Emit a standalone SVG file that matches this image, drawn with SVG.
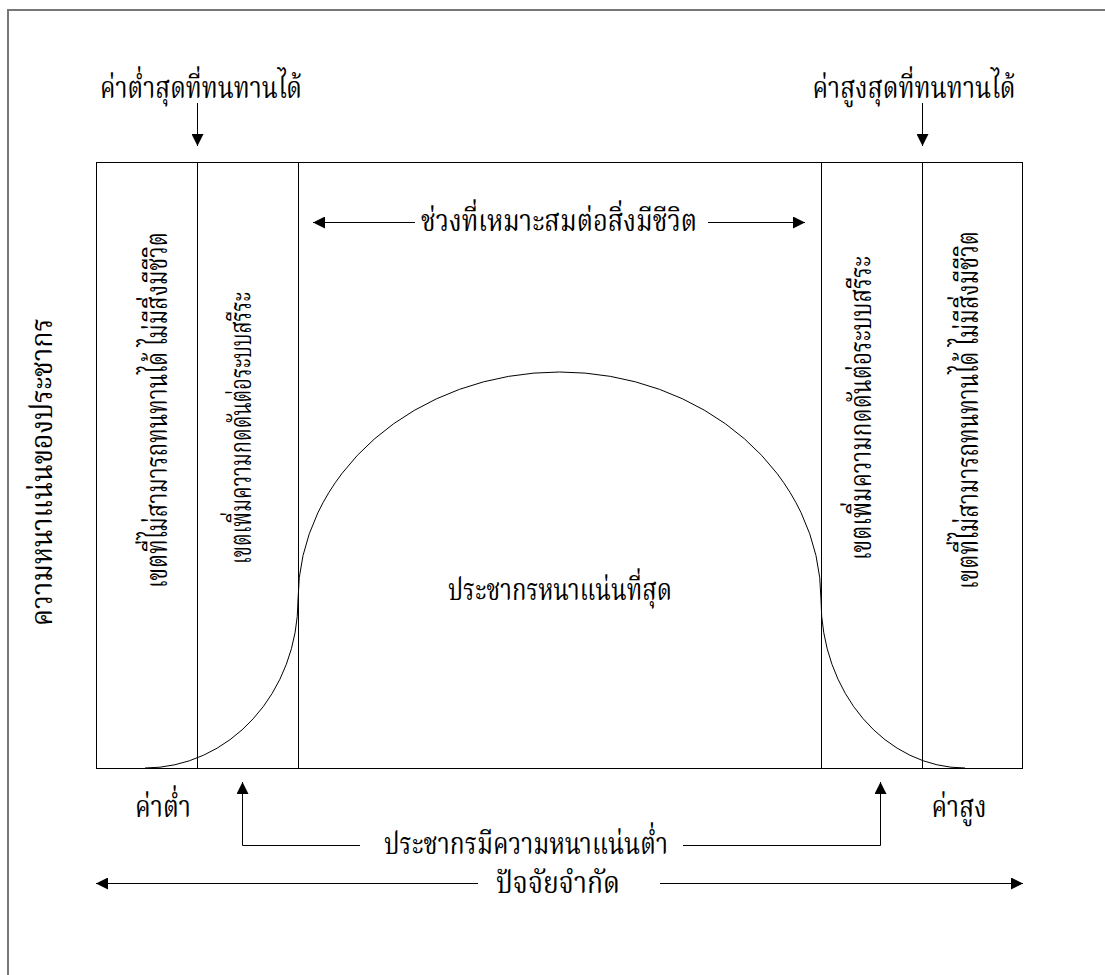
<svg xmlns="http://www.w3.org/2000/svg" width="1105" height="975" viewBox="0 0 1105 975">
<style>
text{font-family:"Liberation Serif","Noto Serif Thai","Noto Sans Thai",serif;fill:#000;font-size:30px}
.ln{stroke:#000;stroke-width:1;fill:none}
.frame{stroke:#777;stroke-width:2;fill:none}
</style>
<defs>
<marker id="ah" viewBox="0 0 10 10" refX="10" refY="5" markerWidth="16" markerHeight="12" markerUnits="userSpaceOnUse" orient="auto"><path d="M0,0 L10,5 L0,10 z" fill="#000"/></marker>
</defs>
<rect class="frame" x="8" y="10" width="1110" height="980"/>
<g id="chart">
<rect class="ln" x="96.5" y="162.5" width="926" height="606"/>
<line class="ln" x1="197.5" y1="163" x2="197.5" y2="768"/>
<line class="ln" x1="298.5" y1="163" x2="298.5" y2="768"/>
<line class="ln" x1="821.5" y1="163" x2="821.5" y2="768"/>
<line class="ln" x1="922.5" y1="163" x2="922.5" y2="768"/>
<path class="ln" d="M145,768 A153,168 0 0 0 298,600 A261.5,228 0 0 1 821,600 A144,168 0 0 0 965,768"/>
</g>
<g id="connectors">
<line class="ln" x1="197.5" y1="103" x2="197.5" y2="146" marker-end="url(#ah)"/>
<line class="ln" x1="922.5" y1="103" x2="922.5" y2="146" marker-end="url(#ah)"/>
<line class="ln" x1="415" y1="222.5" x2="313" y2="222.5" marker-end="url(#ah)"/>
<line class="ln" x1="708" y1="222.5" x2="805" y2="222.5" marker-end="url(#ah)"/>
<polyline class="ln" points="360,845.5 242.5,845.5 242.5,782" marker-end="url(#ah)"/>
<polyline class="ln" points="683,845.5 880.5,845.5 880.5,782" marker-end="url(#ah)"/>
<line class="ln" x1="478" y1="883.5" x2="96" y2="883.5" marker-end="url(#ah)"/>
<line class="ln" x1="660" y1="883.5" x2="1023" y2="883.5" marker-end="url(#ah)"/>
</g>
<g id="labels">
<text x="201" y="98" text-anchor="middle" textLength="202" lengthAdjust="spacingAndGlyphs">ค่าต่ำสุดที่ทนทานได้</text>
<text x="914" y="98" text-anchor="middle" textLength="203" lengthAdjust="spacingAndGlyphs">ค่าสูงสุดที่ทนทานได้</text>
<text x="559" y="231" text-anchor="middle" textLength="276" lengthAdjust="spacingAndGlyphs">ช่วงที่เหมาะสมต่อสิ่งมีชีวิต</text>
<text x="560" y="600" text-anchor="middle" textLength="224" lengthAdjust="spacingAndGlyphs">ประชากรหนาแน่นที่สุด</text>
<text x="163" y="817" text-anchor="middle" textLength="56" lengthAdjust="spacingAndGlyphs">ค่าต่ำ</text>
<text x="959" y="817" text-anchor="middle" textLength="55" lengthAdjust="spacingAndGlyphs">ค่าสูง</text>
<text x="526" y="854" text-anchor="middle" textLength="284" lengthAdjust="spacingAndGlyphs">ประชากรมีความหนาแน่นต่ำ</text>
<text x="558" y="893" text-anchor="middle" textLength="124" lengthAdjust="spacingAndGlyphs">ปัจจัยจำกัด</text>
<text transform="translate(52,472) rotate(-90)" text-anchor="middle" textLength="308" lengthAdjust="spacingAndGlyphs">ความหนาแน่นของประชากร</text>
<text transform="translate(167,410) rotate(-90)" text-anchor="middle" textLength="356" lengthAdjust="spacingAndGlyphs">เขตที่ไม่สามารถทนทานได้ ไม่มีสิ่งมีชีวิต</text>
<text transform="translate(251,428) rotate(-90)" text-anchor="middle" textLength="272" lengthAdjust="spacingAndGlyphs">เขตเพิ่มความกดดันต่อระบบสรีระ</text>
<text transform="translate(871,408) rotate(-90)" text-anchor="middle" textLength="304" lengthAdjust="spacingAndGlyphs">เขตเพิ่มความกดดันต่อระบบสรีระ</text>
<text transform="translate(978,410) rotate(-90)" text-anchor="middle" textLength="358" lengthAdjust="spacingAndGlyphs">เขตที่ไม่สามารถทนทานได้ ไม่มีสิ่งมีชีวิต</text>
</g>
</svg>
